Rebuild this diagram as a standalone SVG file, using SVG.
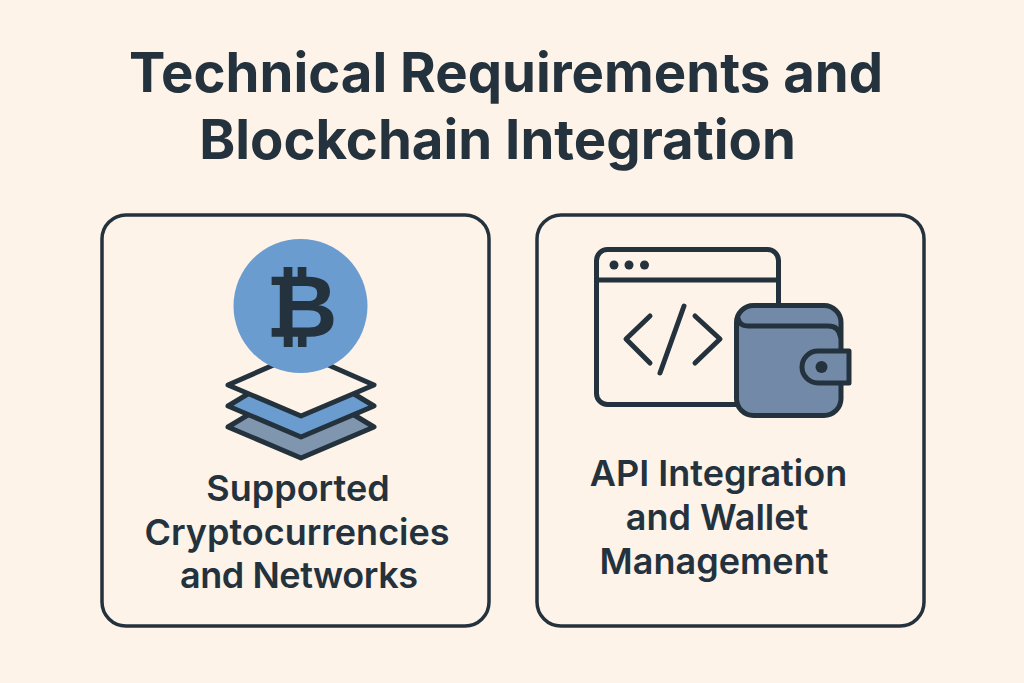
<svg xmlns="http://www.w3.org/2000/svg" width="1024" height="683" viewBox="0 0 1024 683">
<style>
.t{font-family:"Inter","Liberation Sans",sans-serif;fill:#24323d;text-anchor:middle}
.h{font-size:54.5px;font-weight:700}
.l{font-size:36px;font-weight:600}
.s{fill:none;stroke:#24323d;stroke-width:5;stroke-linejoin:round;stroke-linecap:round}
.c{fill:none;stroke:#24323d;stroke-width:3.5}
.d{fill:#24323d}
.b{fill:#6a9cd0}
.p{fill:#fdf3e8}
</style>
<rect width="1024" height="683" class="p"/>
<text class="t h" x="506" y="92">Technical Requirements and</text>
<text class="t h" x="497.5" y="159">Blockchain Integration</text>
<g id="card-crypto">
<rect class="c" x="102" y="215" width="387" height="411" rx="24"/>
<polygon class="s" style="fill:#8095ae" points="301,383 374,427 301,458 228,427"/>
<polygon class="s" style="fill:#6a9cd0" points="301,362 374,406 301,437 228,406"/>
<polygon class="s" style="fill:#fdf3e8" points="301,353 374,385 301,416 228,385"/>
<circle class="b" cx="300.5" cy="306" r="67"/>
<text class="t" x="301.5" y="336.5" style="font-family:'DejaVu Sans',sans-serif;font-size:88px;font-weight:700">₿</text>
<text class="t l" x="298" y="501">Supported</text>
<text class="t l" x="297" y="545">Cryptocurrencies</text>
<text class="t l" x="299" y="588" textLength="238" lengthAdjust="spacing">and Networks</text>
</g>
<g id="card-api">
<rect class="c" x="537" y="215" width="387" height="411" rx="24"/>
<rect class="s" x="596.5" y="249.5" width="182" height="155" rx="11"/>
<line class="s" x1="596.5" y1="280" x2="778.5" y2="280"/>
<circle class="d" cx="614" cy="265" r="4.5"/><circle class="d" cx="629" cy="265" r="4.5"/><circle class="d" cx="644.5" cy="265" r="4.5"/>
<polyline class="s" points="650,316 626,339 650,363"/>
<polyline class="s" points="695,316 720,339 695,363"/>
<line class="s" x1="684" y1="306" x2="660" y2="373"/>
<rect class="s" style="fill:#7289a8" x="736.5" y="305.5" width="104.5" height="110" rx="17"/>
<path class="s" d="M738 318Q739 326 748 326H828Q839 326 840.5 337"/>
<path class="s" style="fill:#7289a8" d="M849 351H818a16 16 0 0 0 0 32H849Z"/>
<circle class="d" cx="821.5" cy="367" r="6"/>
<text class="t l" x="718.5" y="486">API Integration</text>
<text class="t l" x="717" y="530">and Wallet</text>
<text class="t l" x="714" y="574">Management</text>
</g>
</svg>
